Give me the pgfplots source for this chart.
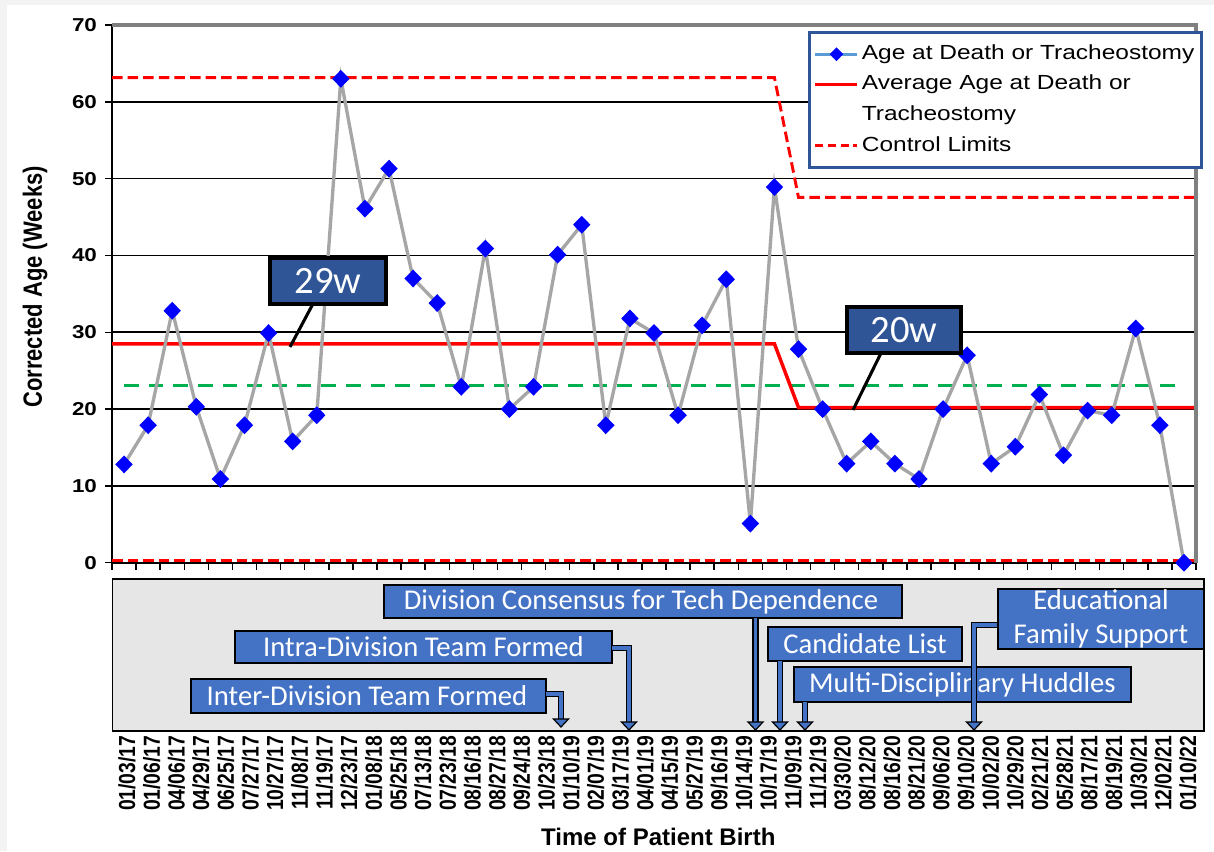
\documentclass[border=0pt]{standalone}
\usepackage{pgfplots}
\usepackage{pgfplotstable}
\pgfplotsset{compat=1.18}
\usepackage{fontspec}
\setmainfont{Liberation Sans}
\newfontfamily\arialS[FakeStretch=1.2]{Liberation Sans}
\newfontfamily\calfont{Carlito}
\definecolor{linegray}{RGB}{166,166,166}
\definecolor{mblue}{RGB}{0,0,255}
\definecolor{cred}{RGB}{255,0,0}
\definecolor{cgreen}{RGB}{0,176,80}
\definecolor{boxblue}{RGB}{68,114,196}
\definecolor{darkbox}{RGB}{47,85,151}
\definecolor{panelgray}{RGB}{231,230,230}
\definecolor{bordergray}{RGB}{128,128,128}
\definecolor{legblue}{RGB}{91,155,213}
\definecolor{framegray}{RGB}{243,243,243}
\newcommand{\xl}[1]{\scalebox{1}[1.2]{#1}}
\newcommand{\barrow}[1]{\draw[black, line width=5pt, line join=miter] #1; \draw[boxblue, line width=2.6pt, line join=miter] #1;}
\newcommand{\bhead}[2]{\draw[fill=boxblue, line width=0.9pt, line join=miter] (#1-7.5,#2-8) -- (#1+7.5,#2-8) -- (#1,#2) -- cycle;}

\pgfplotstableread{
x y
1 12.8
2 17.9
3 32.8
4 20.3
5 10.9
6 17.9
7 29.9
8 15.8
9 19.2
10 63.0
11 46.1
12 51.3
13 37.0
14 33.8
15 22.9
16 40.9
17 20.0
18 22.9
19 40.1
20 44.0
21 17.9
22 31.8
23 29.9
24 19.2
25 30.9
26 36.9
27 5.1
28 48.9
29 27.8
30 20.0
31 12.9
32 15.8
33 12.9
34 10.9
35 20.0
36 27.0
37 12.9
38 15.1
39 21.9
40 14.0
41 19.8
42 19.2
43 30.5
44 17.9
45 0.0
}\agedata

\pgfplotstableread{
x y
0.5 28.5
28 28.5
29 20.2
45.5 20.2
}\avgdata

\pgfplotstableread{
x y
0.5 63.15
28 63.15
29 47.55
45.5 47.55
}\ucldata

\pgfplotstableread{
x y
0.5 0.3
45.5 0.3
}\lcldata

\pgfplotstableread{
x y
1 23.1
45 23.1
}\meandata

\begin{document}
\begin{tikzpicture}
\useasboundingbox (0,0) rectangle (910.5pt,638.25pt);
\fill[framegray] (0,0) rectangle (910.5pt,638.25pt);
\fill[white] (5.25pt,0) rectangle (910.5pt,634.5pt);

\begin{axis}[
  at={(84pt,216.2pt)}, anchor=south west,
  width=813pt, height=403.3pt, scale only axis,
  xmin=0.5, xmax=45.5, ymin=0, ymax=70,
  clip=false,
  axis x line*=bottom, axis y line*=left,
  axis line style={black, line width=1.4pt},
  xtick={0.5,1.5,...,45.5}, xticklabels={},
  ytick={0,10,...,70},
  tick align=outside, major tick length=5.25pt,
  tick style={black, line width=1.1pt},
  ymajorgrids, grid style={black, line width=1.2pt},
  /pgf/number format/assume math mode=true,
  yticklabel style={font=\arialS\bfseries\fontsize{14pt}{16pt}\selectfont, xshift=-2.5pt},
  ylabel={\xl{Corrected Age (Weeks)}},
  ylabel style={at={(axis description cs:-0.071,0.513)}, anchor=center, font=\bfseries\fontsize{16.5pt}{18pt}\selectfont},
  legend style={at={(axis description cs:1.006,0.988)}, anchor=north east,
    draw=darkbox, line width=2.25pt, fill=white,
    font=\arialS\fontsize{15.3pt}{18pt}\selectfont,
    inner xsep=3pt, inner ysep=4.5pt, row sep=0pt,
    nodes={inner xsep=2pt, inner ysep=4.35pt, text height=11pt, text depth=3.2pt}},
  legend cell align=left,
  legend image code/.code={\draw[mark repeat=2, mark phase=2, #1] plot coordinates {(0pt,0pt) (15.75pt,0pt) (31.5pt,0pt)};},
]
\addplot[cred, line width=2.2pt, dash pattern=on 7.9pt off 3.8pt, forget plot] table[x=x,y=y]{\lcldata};
\addplot[cred, line width=2.2pt, dash pattern=on 7.9pt off 3.8pt, forget plot] table[x=x,y=y]{\ucldata};
\addplot[cgreen, line width=2.2pt, dash pattern=on 11pt off 7.5pt, forget plot] table[x=x,y=y]{\meandata};
\addplot[cred, line width=2.6pt, forget plot] table[x=x,y=y]{\avgdata};
\addplot[linegray, line width=2.5pt, mark=diamond*, mark size=4.9pt,
  mark options={draw=mblue, fill=mblue, xscale=1.3, solid}, forget plot] table[x=x,y=y]{\agedata};
\draw[bordergray, line width=3pt] (rel axis cs:0,1) -- (rel axis cs:1,1) -- (rel axis cs:1,0);
\addlegendimage{legblue, line width=2.2pt, mark=diamond*, mark size=3.6pt, mark options={draw=mblue, fill=mblue, xscale=1.3, solid}}
\addlegendentry{Age at Death or Tracheostomy}
\addlegendimage{cred, line width=2.6pt}
\addlegendentry{Average Age at Death or}
\addlegendimage{empty legend}
\addlegendentry{Tracheostomy}
\addlegendimage{cred, line width=2.2pt, dash pattern=on 6pt off 3.5pt}
\addlegendentry{Control Limits}
\end{axis}

\begin{axis}[
  at={(84.5pt,90pt)}, anchor=south west,
  width=818.5pt, height=114pt, scale only axis,
  xmin=0.42, xmax=44.65, ymin=0, ymax=1,
  axis background/.style={fill=panelgray},
  axis line style={black, line width=1.1pt},
  ytick=\empty, xtick={1,...,44}, major tick length=0pt,
  xticklabels={\xl{01/03/17},\xl{01/06/17},\xl{04/06/17},\xl{04/29/17},\xl{06/25/17},\xl{07/27/17},\xl{10/27/17},\xl{11/08/17},\xl{11/19/17},\xl{12/23/17},\xl{01/08/18},\xl{05/25/18},\xl{07/13/18},\xl{07/23/18},\xl{08/16/18},\xl{08/27/18},\xl{09/24/18},\xl{10/23/18},\xl{01/10/19},\xl{02/07/19},\xl{03/17/19},\xl{04/01/19},\xl{04/15/19},\xl{05/27/19},\xl{09/16/19},\xl{10/14/19},\xl{10/17/19},\xl{11/09/19},\xl{11/12/19},\xl{03/30/20},\xl{08/12/20},\xl{08/16/20},\xl{08/21/20},\xl{09/06/20},\xl{09/10/20},\xl{10/02/20},\xl{10/29/20},\xl{02/21/21},\xl{05/28/21},\xl{08/17/21},\xl{08/19/21},\xl{10/30/21},\xl{12/02/21},\xl{01/10/22}},
  xticklabel style={rotate=90, anchor=east, font=\bfseries\fontsize{14.5pt}{16pt}\selectfont},
  xlabel={Time of Patient Birth},
  xlabel style={at={(axis description cs:0.5,-0.70)}, anchor=center, font=\bfseries\fontsize{18pt}{20pt}\selectfont},
]
\end{axis}

\begin{scope}[x=0.75pt, y=-0.75pt, yshift=638.25pt]
  % 29w and 20w callouts
  \draw[black, line width=2.3pt] (315,300) -- (290,347);
  \draw[fill=darkbox, line width=3pt] (270,258) rectangle (386,304);
  \node[text=white, font=\calfont\fontsize{29pt}{30pt}\selectfont] at (328,281) {29w};
  \draw[black, line width=2.3pt] (883,349) -- (853,410);
  \draw[fill=darkbox, line width=3pt] (847,307) rectangle (961,353);
  \node[text=white, font=\calfont\fontsize{29pt}{30pt}\selectfont] at (904,330) {20w};

  % timeline annotations
  \tikzset{ann/.style={text=white, font=\calfont\fontsize{21.5pt}{25.5pt}\selectfont, align=center}}
  \draw[fill=boxblue, line width=1.5pt] (384,585) rectangle (902,618);
  \node[ann] at (641,601.5) {Division Consensus for Tech Dependence};
  \draw[fill=boxblue, line width=1.5pt] (235,631) rectangle (612,663);
  \node[ann] at (423.5,647) {Intra-Division Team Formed};
  \draw[fill=boxblue, line width=1.5pt] (191,679) rectangle (546,713);
  \node[ann] at (367,696) {Inter-Division Team Formed};
  \draw[fill=boxblue, line width=1.5pt] (768,627) rectangle (962,661);
  \node[ann] at (865,644) {Candidate List};

  \barrow{(546,694) -- (561,694) -- (561,719)}
  \bhead{561}{727}
  \barrow{(612,648) -- (629,648) -- (629,722)}
  \bhead{629}{730}
  \barrow{(755.5,618) -- (755.5,722)}
  \bhead{755.5}{730}
  \barrow{(780,661) -- (780,722)}
  \bhead{780}{730}

  \draw[fill=boxblue, line width=1.5pt] (794,667) rectangle (1131,702);
  \node[ann] at (962.5,684.5) {Multi-Disciplinary Huddles};
  \barrow{(805,702) -- (805,722)}
  \bhead{805}{730}

  \barrow{(998,625) -- (974,625) -- (974,722)}
  \bhead{974}{730}
  \draw[fill=boxblue, line width=1.5pt] (998,589) rectangle (1204,649);
  \node[ann] at (1101,619) {Educational\\Family Support};
\end{scope}
\end{tikzpicture}
\end{document}
